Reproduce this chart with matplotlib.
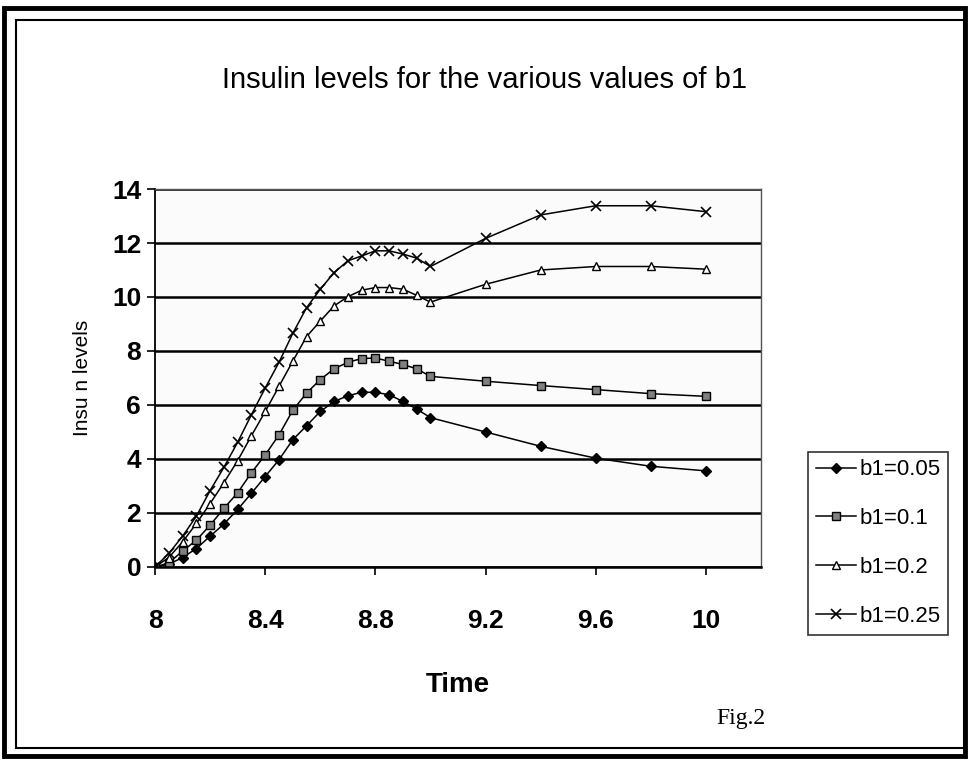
import matplotlib.pyplot as plt
from matplotlib.patches import Rectangle

# Datos
time = [8.0, 8.05, 8.1, 8.15, 8.2, 8.25, 8.3, 8.35, 8.4, 8.45, 8.5, 8.55, 8.6, 8.65,
        8.7, 8.75, 8.8, 8.85, 8.9, 8.95, 9.0, 9.2, 9.4, 9.6, 9.8, 10.0]

b1_005 = [0, 0.1, 0.35, 0.68, 1.14, 1.59, 2.13, 2.73, 3.35, 3.97, 4.71, 5.23, 5.76, 6.13,
          6.34, 6.47, 6.47, 6.38, 6.13, 5.85, 5.53, 5.0, 4.47, 4.03, 3.73, 3.56]
b1_01 = [0, 0.15, 0.59, 0.99, 1.55, 2.17, 2.75, 3.49, 4.15, 4.89, 5.8, 6.44, 6.94, 7.34,
         7.58, 7.72, 7.74, 7.62, 7.5, 7.34, 7.06, 6.88, 6.72, 6.57, 6.42, 6.32]
b1_02 = [0, 0.35, 0.93, 1.61, 2.35, 3.12, 3.94, 4.86, 5.76, 6.69, 7.62, 8.53, 9.11, 9.67,
         10.01, 10.25, 10.35, 10.35, 10.29, 10.06, 9.81, 10.47, 11.0, 11.13, 11.13, 11.03]
b1_025 = [0, 0.5, 1.14, 1.88, 2.83, 3.69, 4.62, 5.64, 6.63, 7.58, 8.65, 9.6, 10.29, 10.9,
          11.34, 11.52, 11.71, 11.71, 11.59, 11.44, 11.13, 12.17, 13.04, 13.38, 13.38, 13.16]

labels = ['b1=0.05', 'b1=0.1', 'b1=0.2', 'b1=0.25']
x_ticks = [8, 8.4, 8.8, 9.2, 9.6, 10]
x_tick_labels = ['8', '8.4', '8.8', '9.2', '9.6', '10']
y_ticks = [0, 2, 4, 6, 8, 10, 12, 14]

fig = plt.figure(figsize=(9.69, 7.6), dpi=100)
ax = fig.add_axes([0.16, 0.254, 0.6253, 0.4973])

# Estilos de las series (como en Excel)
estilos = [
    dict(marker='D', markersize=5, markerfacecolor='black', markeredgecolor='black'),
    dict(marker='s', markersize=6, markerfacecolor='#808080', markeredgecolor='black'),
    dict(marker='^', markersize=6, markerfacecolor='white', markeredgecolor='black'),
    dict(marker='x', markersize=7, markeredgecolor='black', markeredgewidth=1.2),
]
series = [b1_005, b1_01, b1_02, b1_025]
for y, lab, st in zip(series, labels, estilos):
    ax.plot(time, y, color='black', linewidth=1.1, label=lab, **st)

ax.set_xlim(8, 10.2)
ax.set_ylim(0, 14)
ax.set_xticks(x_ticks)
ax.set_xticklabels(x_tick_labels)
ax.set_yticks(y_ticks)
ax.tick_params(axis='both', labelsize=19, width=1.2, length=6, direction='out')
for t in ax.get_xticklabels() + ax.get_yticklabels():
    t.set_fontweight('bold')
    t.set_family('Liberation Sans')
ax.tick_params(axis='x', pad=24)
ax.tick_params(axis='y', pad=4)

ax.grid(axis='y', color='black', linewidth=1.8)
ax.set_axisbelow(True)
ax.set_facecolor('#fbfbfb')
ax.spines['left'].set_linewidth(1.3)
ax.spines['bottom'].set_linewidth(1.8)
for s in ['top', 'right']:
    ax.spines[s].set_color('#555555')
    ax.spines[s].set_linewidth(1.0)

ax.set_xlabel('Time', fontsize=20, family='Liberation Sans', fontweight='bold', labelpad=28)
ax.set_ylabel('Insu n levels', fontsize=15, family='Liberation Sans', labelpad=14)

fig.text(0.5, 0.895, 'Insulin levels for the various values of b1', ha='center', va='center',
         fontsize=21, family='Liberation Sans')
fig.text(0.765, 0.055, 'Fig.2', ha='center', va='center', fontsize=17, family='Liberation Serif')

leg = ax.legend(loc='center left', bbox_to_anchor=(1.078, 0.063),
                prop={'family': 'Liberation Sans', 'size': 16},
                frameon=True, fancybox=False, edgecolor='black', handlelength=1.8,
                labelspacing=1.25, borderpad=0.35, handletextpad=0.15, borderaxespad=0)
leg.get_frame().set_linewidth(1.2)

# Marco doble alrededor de la figura
fig.patches.append(Rectangle((0.004, 0.005), 0.992, 0.985, transform=fig.transFigure,
                             fill=False, edgecolor='black', linewidth=3.5))
fig.patches.append(Rectangle((0.016, 0.016), 0.979, 0.958, transform=fig.transFigure,
                             fill=False, edgecolor='black', linewidth=1.5))

fig.savefig('out.png', dpi=100)
